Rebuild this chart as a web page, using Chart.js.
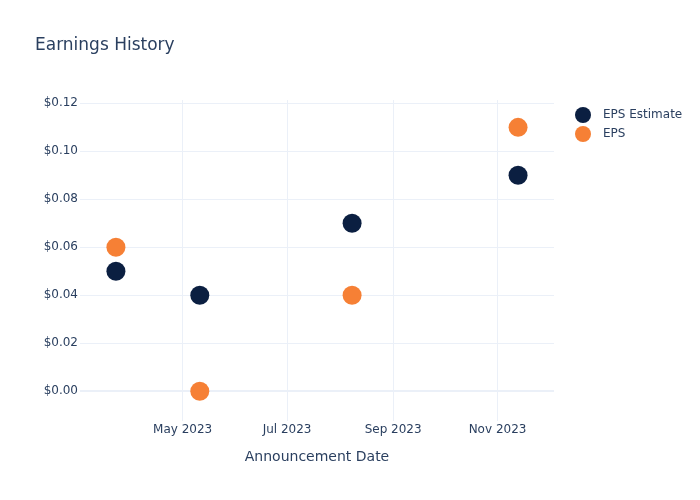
<!DOCTYPE html>
<html>
<head>
<meta charset="utf-8">
<script src="https://cdn.jsdelivr.net/npm/chart.js@4"></script>
<style>
  html, body { margin: 0; padding: 0; background: #fff; }
  #wrap { width: 700px; height: 500px; }
</style>
</head>
<body>
<div id="wrap"><canvas id="earningsChart" width="700" height="500"></canvas></div>
<script>
// Chart data
const announceDates = ['2023-03-23', '2023-05-11', '2023-08-08', '2023-11-13'];
const epsEstimate = [0.05, 0.04, 0.07, 0.09];
const epsActual = [0.06, 0.00, 0.04, 0.11];
const xTickDates = ['2023-05-01', '2023-07-01', '2023-09-01', '2023-11-01'];
const xTickLabels = ['May 2023', 'Jul 2023', 'Sep 2023', 'Nov 2023'];
const yTickValues = [0, 0.02, 0.04, 0.06, 0.08, 0.10, 0.12];

const textColor = '#2a3f5f';
const gridColor = '#ebf0f8';
const estimateColor = '#0b1f41';
const epsColor = '#f68035';

// dates -> ms so a linear scale can place them
const toMs = d => Date.parse(d + 'T00:00:00Z');

const seriesEstimate = announceDates.map((d, i) => ({ x: toMs(d), y: epsEstimate[i] }));
const seriesEps = announceDates.map((d, i) => ({ x: toMs(d), y: epsActual[i] }));

// Title + legend drawn by hand (plotly style)
const extrasPlugin = {
  id: 'extras',
  afterDraw(chart) {
    const ctx = chart.ctx;
    ctx.save();
    ctx.fillStyle = textColor;
    ctx.font = '17px "DejaVu Sans"';
    ctx.textBaseline = 'alphabetic';
    ctx.textAlign = 'left';
    ctx.fillText('Earnings History', 35, 50);

    ctx.font = '12px "DejaVu Sans"';
    ctx.textBaseline = 'middle';
    chart.data.datasets.forEach((ds, i) => {
      const y = 115 + i * 19;
      ctx.beginPath();
      ctx.arc(583, y, 8, 0, Math.PI * 2);
      ctx.fillStyle = ds.backgroundColor;
      ctx.fill();
      ctx.fillStyle = textColor;
      ctx.fillText(ds.label, 603, y);
    });
    ctx.restore();
  }
};

const ctx = document.getElementById('earningsChart').getContext('2d');
const earningsChart = new Chart(ctx, {
  type: 'scatter',
  data: {
    datasets: [
      {
        label: 'EPS Estimate',
        data: seriesEstimate,
        backgroundColor: estimateColor,
        borderColor: estimateColor,
        borderWidth: 0,
        pointRadius: 9.5,
        pointHoverRadius: 9.5
      },
      {
        label: 'EPS',
        data: seriesEps,
        backgroundColor: epsColor,
        borderColor: epsColor,
        borderWidth: 0,
        pointRadius: 9.5,
        pointHoverRadius: 9.5
      }
    ]
  },
  options: {
    responsive: false,
    animation: false,
    layout: { padding: { top: 100, right: 146, left: 0, bottom: 0 } },
    plugins: {
      legend: { display: false },
      tooltip: { enabled: false }
    },
    scales: {
      x: {
        type: 'linear',
        min: toMs('2023-03-02'),
        max: toMs('2023-12-04'),
        afterBuildTicks: scale => {
          scale.ticks = xTickDates.map(d => ({ value: toMs(d) }));
        },
        afterFit: scale => { scale.height = 79; },
        ticks: {
          color: textColor,
          font: { family: 'DejaVu Sans', size: 12 },
          padding: 2,
          maxRotation: 0,
          callback: (v) => xTickLabels[xTickDates.map(toMs).indexOf(v)]
        },
        grid: { color: gridColor, lineWidth: 1, drawTicks: false },
        border: { display: false },
        title: {
          display: true,
          text: 'Announcement Date',
          color: textColor,
          font: { family: 'DejaVu Sans', size: 14 },
          padding: { top: 0, bottom: 34 }
        }
      },
      y: {
        min: -0.0124,
        max: 0.1214,
        afterBuildTicks: scale => {
          scale.ticks = yTickValues.map(v => ({ value: v }));
        },
        afterFit: scale => { scale.width = 80; },
        ticks: {
          color: textColor,
          font: { family: 'DejaVu Sans', size: 12 },
          padding: 2,
          callback: v => '$' + v.toFixed(2)
        },
        grid: {
          color: gridColor,
          lineWidth: c => (c.tick && c.tick.value === 0 ? 2 : 1),
          drawTicks: false
        },
        border: { display: false }
      }
    }
  },
  plugins: [extrasPlugin]
});
</script>
</body>
</html>
